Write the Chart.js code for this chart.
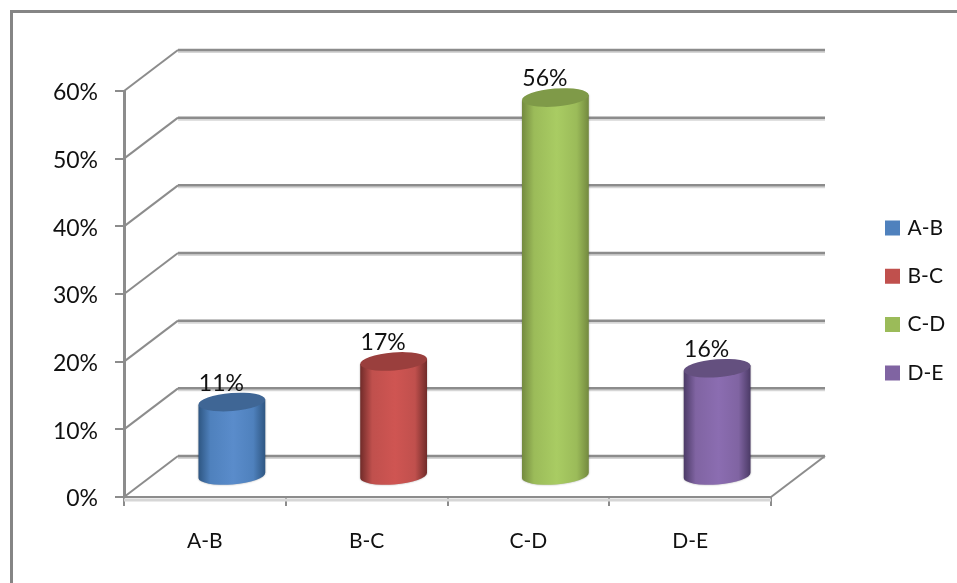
<!DOCTYPE html>
<html>
<head>
<meta charset="utf-8">
<title>Chart</title>
<script src="https://cdn.jsdelivr.net/npm/chart.js@4"></script>
<style>
  html, body { margin: 0; padding: 0; background: #fff; }
  canvas { display: block; }
</style>
</head>
<body>
<canvas id="cylinderChart" width="957" height="583"></canvas>
<script>
// Chart data
const categories = ['A-B', 'B-C', 'C-D', 'D-E'];
const percentValues = [11, 17, 56, 16];
const yTicks = [0, 10, 20, 30, 40, 50, 60];

// Cylinder colours, one per category
const baseColors = ['#4F81BD', '#C0504D', '#9BBB59', '#8064A2'];
const midColors = ['#5A8CCB', '#CF5552', '#A9CC63', '#8B6DB1'];
const edgeColors = ['#2E5682', '#702B29', '#73893F', '#4B3A66'];
const capColors = ['#3F6695', '#9A3F3D', '#7F9A48', '#64507F'];

const GRID_GREY = '#8C8C8C';
const GRID_SHADOW = '#D6D6D6';
const DEPTH_X = 54;   // how far the back wall sits from the front of the box
const DEPTH_Y = -41;
const CAP_HEIGHT = 9;
const CAP_TILT = -4.5 * Math.PI / 180;

function drawLine(ctx, points, color, width) {
    ctx.beginPath();
    points.forEach((p, i) => i ? ctx.lineTo(p[0], p[1]) : ctx.moveTo(p[0], p[1]));
    ctx.strokeStyle = color;
    ctx.lineWidth = width;
    ctx.stroke();
}

// White page and the outer frame, which runs off the right and bottom edge
const framePlugin = {
    id: 'frame',
    beforeDraw(chart) {
        const ctx = chart.ctx;
        ctx.save();
        ctx.fillStyle = '#fff';
        ctx.fillRect(0, 0, chart.width, chart.height);
        drawLine(ctx, [[11.5, chart.height], [11.5, 11.5], [chart.width, 11.5]], '#858585', 3);
        ctx.restore();
    }
};

// Legend does not take room from the plot, it is just placed at the right
const legendPlugin = {
    id: 'legendPlace',
    afterLayout(chart) {
        const legend = chart.legend;
        legend.left = 860.7;
        legend.top = 190.2;
        legend.bottom = chart.height;
        legend.right = chart.width;
    }
};

// Side walls and floor of the 3D box, taken from the scales
const wallPlugin = {
    id: 'walls',
    beforeDatasetsDraw(chart) {
        const ctx = chart.ctx;
        const { left, right } = chart.chartArea;
        const yScale = chart.scales.y;
        ctx.save();
        yTicks.forEach(tick => {
            const y = yScale.getPixelForValue(tick);
            const backY = y + DEPTH_Y;
            drawLine(ctx, [[left + DEPTH_X, backY + 2], [right + DEPTH_X, backY + 2]], GRID_SHADOW, 2);
            drawLine(ctx, [[left, y], [left + DEPTH_X, backY]], GRID_GREY, 2);
            drawLine(ctx, [[left + DEPTH_X, backY], [right + DEPTH_X, backY]], GRID_GREY, 2.5);
        });
        const floor = yScale.getPixelForValue(0);
        drawLine(ctx, [[left, floor + 3], [right, floor + 3]], GRID_SHADOW, 3);
        drawLine(ctx, [[right, floor], [right + DEPTH_X, floor + DEPTH_Y]], GRID_GREY, 2);
        ctx.restore();
    }
};

// Draws each bar element as a cylinder plus its value label
const cylinderPlugin = {
    id: 'cylinders',
    beforeDatasetDraw(chart, args) {
        const ctx = chart.ctx;
        args.meta.data.forEach((bar, i) => {
            const a = bar.width / 2;
            const cx = bar.x + DEPTH_X / 2;
            const topY = bar.y + DEPTH_Y / 2;
            const baseY = bar.base + DEPTH_Y / 2;
            const rimX = a * Math.cos(CAP_TILT);
            const rimY = a * Math.sin(CAP_TILT);

            const grad = ctx.createLinearGradient(cx - a, 0, cx + a, 0);
            grad.addColorStop(0, edgeColors[i]);
            grad.addColorStop(0.18, baseColors[i]);
            grad.addColorStop(0.52, midColors[i]);
            grad.addColorStop(0.82, baseColors[i]);
            grad.addColorStop(1, edgeColors[i]);

            ctx.save();
            ctx.shadowColor = 'rgba(0,0,0,0.35)';
            ctx.shadowBlur = 2;
            ctx.beginPath();
            ctx.moveTo(cx - rimX, topY - rimY);
            ctx.lineTo(cx - rimX, baseY - rimY);
            ctx.ellipse(cx, baseY, a, CAP_HEIGHT, CAP_TILT, Math.PI, 0, true);
            ctx.lineTo(cx + rimX, topY + rimY);
            ctx.closePath();
            ctx.fillStyle = grad;
            ctx.fill();
            ctx.restore();

            ctx.beginPath();
            ctx.ellipse(cx, topY, a, CAP_HEIGHT, CAP_TILT, 0, Math.PI * 2);
            ctx.fillStyle = capColors[i];
            ctx.fill();

            ctx.fillStyle = '#111';
            ctx.font = '23px Lato';
            ctx.textAlign = 'center';
            ctx.textBaseline = 'middle';
            ctx.fillText(percentValues[i] + '%', cx - 10.5, topY - 18.5);
        });
        return false; // the plain bar is replaced by the cylinder
    }
};

const ctx = document.getElementById('cylinderChart').getContext('2d');
new Chart(ctx, {
    type: 'bar',
    data: {
        labels: categories,
        datasets: [{
            data: percentValues,
            backgroundColor: baseColors,
            barPercentage: 0.414,
            categoryPercentage: 1
        }]
    },
    options: {
        responsive: false,
        animation: false,
        layout: {
            padding: { left: 24, top: 91, right: 186, bottom: 26 }
        },
        scales: {
            x: {
                afterFit(scale) { scale.height = 60; },
                grid: { color: GRID_GREY, lineWidth: 2, drawOnChartArea: false, tickLength: 9 },
                border: { color: GRID_GREY, width: 2 },
                ticks: { color: '#111', padding: 23, maxRotation: 0, font: { family: 'Lato', size: 21 } }
            },
            y: {
                min: 0,
                max: 60,
                afterFit(scale) { scale.width = 100; },
                afterBuildTicks(scale) { scale.ticks = yTicks.map(v => ({ value: v })); },
                grid: { color: GRID_GREY, lineWidth: 2, drawOnChartArea: false, tickLength: 9 },
                border: { color: GRID_GREY, width: 3 },
                ticks: {
                    color: '#111',
                    padding: 17,
                    labelOffset: 2,
                    font: { family: 'Lato', size: 23 },
                    callback: value => value + '%'
                }
            }
        },
        plugins: {
            tooltip: { enabled: false },
            legend: {
                position: 'chartArea',
                align: 'start',
                onClick: null,
                labels: {
                    boxWidth: 9,
                    boxHeight: 9,
                    padding: 27.3,
                    color: '#111',
                    font: { family: 'Lato', size: 21 },
                    generateLabels: () => categories.map((name, i) => ({
                        text: name,
                        fillStyle: baseColors[i],
                        strokeStyle: baseColors[i],
                        lineWidth: 6,
                        fontColor: '#111',
                        index: i
                    }))
                }
            }
        }
    },
    plugins: [framePlugin, legendPlugin, wallPlugin, cylinderPlugin]
});
</script>
</body>
</html>
